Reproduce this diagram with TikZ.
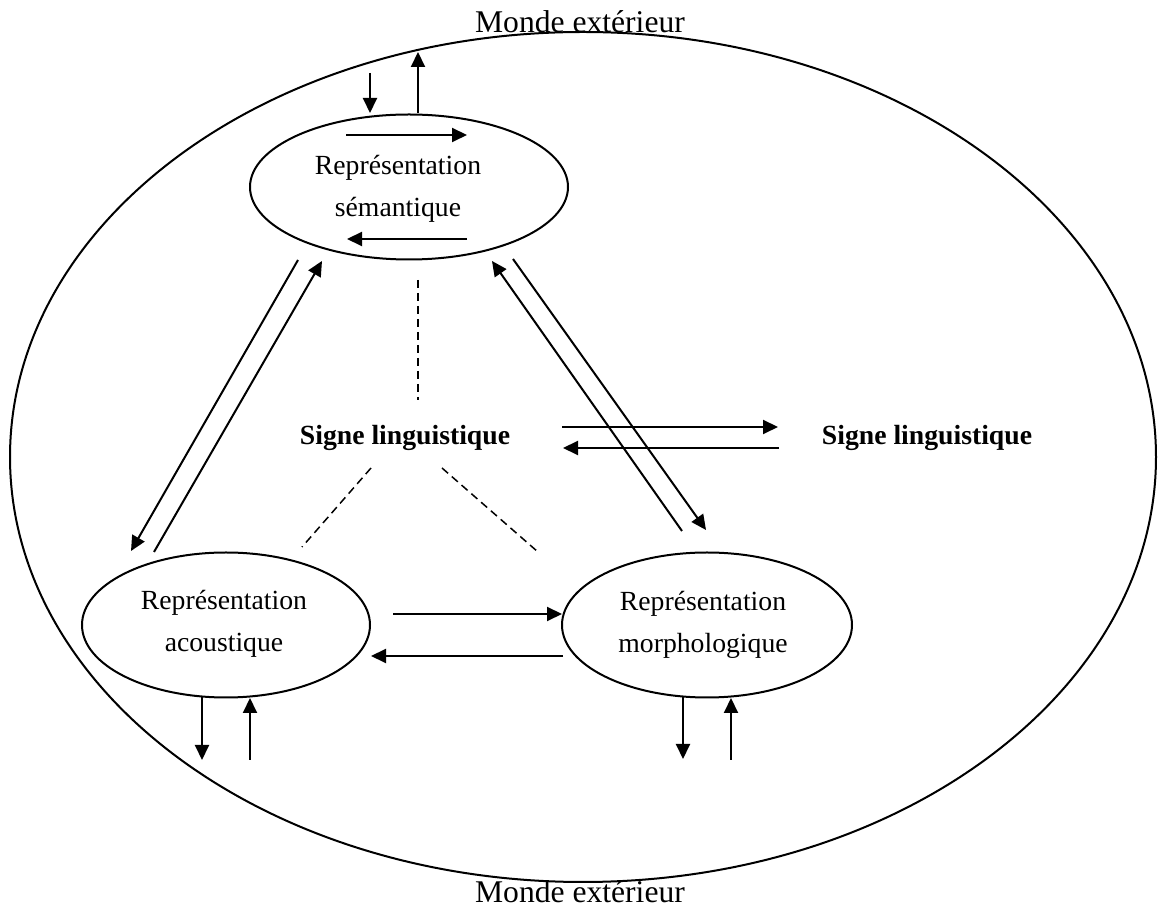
\documentclass[tikz,border=0pt]{standalone}
\usepackage{fontspec}
\setmainfont{Liberation Serif}
\usetikzlibrary{arrows.meta,shapes.geometric}
\begin{document}
\begin{tikzpicture}[x=0.5pt,y=-0.5pt,
  arr/.style={line width=1pt,-{Triangle[length=7.5pt,width=7pt]}},
  plain/.style={line width=1pt},
  dashline/.style={line width=0.75pt,dash pattern=on 4pt off 2.5pt},
  oval/.style={draw,ellipse,line width=1pt,inner sep=0pt},
  lbl/.style={align=center,inner sep=0pt,font=\fontsize{13.85pt}{21pt}\selectfont},
  sign/.style={inner sep=0pt,font=\fontsize{13.85pt}{21pt}\selectfont\bfseries},
  world/.style={inner sep=0pt,font=\fontsize{15.8pt}{19pt}\selectfont}]
\useasboundingbox (0,0) rectangle (1158,908);
% outer world
\node[oval,line width=1pt,minimum width=573pt,minimum height=425pt] (world) at (583,457) {};
\node[world] (wtop) at (580,22) {Monde extérieur};
\node[world] (wbot) at (580,892) {Monde extérieur};
% ellipses
\node[oval,minimum width=159pt,minimum height=72.5pt] (sem) at (409,187) {};
\node[lbl] (semt) at (398,189) {Représentation\\sémantique};
\node[oval,minimum width=144pt,minimum height=72.5pt] (aco) at (226,625) {};
\node[lbl] (acot) at (224,624) {Représentation\\acoustique};
\node[oval,minimum width=145pt,minimum height=72.5pt] (mor) at (707,625) {};
\node[lbl] (mort) at (703,625) {Représentation\\morphologique};
% signs
\node[sign] (s1) at (405,438) {Signe linguistique};
\node[sign] (s2) at (927,438) {Signe linguistique};
% coordinates
\coordinate (t1a) at (370,73);  \coordinate (t1b) at (370,113);
\coordinate (t2a) at (418,113); \coordinate (t2b) at (418,52);
\coordinate (i1a) at (346,135); \coordinate (i1b) at (467,135);
\coordinate (i2a) at (467,239); \coordinate (i2b) at (347,239);
\coordinate (l1a) at (298,260); \coordinate (l1b) at (131,551);
\coordinate (l2a) at (154,552); \coordinate (l2b) at (322,261);
\coordinate (r1a) at (682,531); \coordinate (r1b) at (492,261);
\coordinate (r2a) at (513,259); \coordinate (r2b) at (706,530);
\coordinate (m1a) at (562,427); \coordinate (m1b) at (778,427);
\coordinate (m2a) at (779,448); \coordinate (m2b) at (563,448);
\coordinate (h1a) at (393,614); \coordinate (h1b) at (562,614);
\coordinate (h2a) at (563,656); \coordinate (h2b) at (371,656);
\coordinate (a1a) at (202,697); \coordinate (a1b) at (202,760);
\coordinate (a2a) at (250,760); \coordinate (a2b) at (250,698);
\coordinate (b1a) at (683,697); \coordinate (b1b) at (683,759);
\coordinate (b2a) at (731,760); \coordinate (b2b) at (731,698);
\coordinate (d1a) at (418,280); \coordinate (d1b) at (418,400);
\coordinate (d2a) at (371,468); \coordinate (d2b) at (302,547);
\coordinate (d3a) at (442,468); \coordinate (d3b) at (538,552);
% arrows
\draw[arr] (t1a) -- (t1b);
\draw[arr] (t2a) -- (t2b);
\draw[arr] (i1a) -- (i1b);
\draw[arr] (i2a) -- (i2b);
\draw[arr] (l1a) -- (l1b);
\draw[arr] (l2a) -- (l2b);
\draw[arr] (r1a) -- (r1b);
\draw[arr] (r2a) -- (r2b);
\draw[arr] (m1a) -- (m1b);
\draw[arr] (m2a) -- (m2b);
\draw[arr] (h1a) -- (h1b);
\draw[arr] (h2a) -- (h2b);
\draw[arr] (a1a) -- (a1b);
\draw[arr] (a2a) -- (a2b);
\draw[arr] (b1a) -- (b1b);
\draw[arr] (b2a) -- (b2b);
% dashed
\draw[dashline] (d1a) -- (d1b);
\draw[dashline] (d2a) -- (d2b);
\draw[dashline] (d3a) -- (d3b);
\end{tikzpicture}
\end{document}
